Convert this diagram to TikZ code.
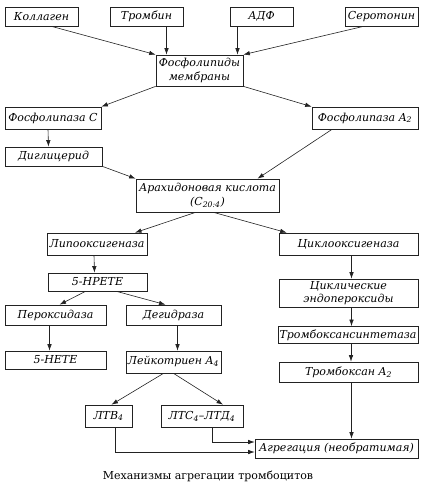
\documentclass[tikz,border=0pt]{standalone}
\usepackage{fontspec}
\setmainfont{DejaVu Serif}
\usetikzlibrary{positioning, arrows.meta, calc}
\definecolor{coloredge}{HTML}{222222}

\begin{document}
\begin{tikzpicture}[
    % one unit = one pixel of the page, y running downwards
    x=1pt, y=-1pt,
    box/.style={
        rectangle,
        draw=coloredge,
        fill=white,
        align=center,
        inner sep=1.5pt,
        minimum height=19pt,
        line width=0.7pt,
        text=black,
        font=\fontsize{11}{13.5}\selectfont\itshape
    },
    arrow/.style={
        -{Latex[length=6.5pt, width=4.5pt]},
        coloredge,
        line width=0.6pt
    }
]
\useasboundingbox (0,0) rectangle (430,488);

% ==============================
% Row 1: Activators
% ==============================
\node[box, minimum width=73pt] (collagen) at (41.5,16.5) {Коллаген};
\node[box, minimum width=73pt] (thrombin) at (146.5,16.5) {Тромбин};
\node[box, minimum width=63pt] (adp) at (261.5,16.5) {АДФ};
\node[box, minimum width=73pt] (serotonin) at (381.5,16.5) {Серотонин};

\node[box, minimum width=87pt, minimum height=31pt] (phlip) at (199.5,70.5) {
    Фосфолипиды \\ мембраны
};

% ==============================
% Row 2: Phospholipases
% ==============================
\node[box, minimum width=96pt, minimum height=22pt] (plc) at (53,118) {Фосфолипаза C};
\node[box, minimum width=106pt, minimum height=22pt] (pla) at (365,118) {Фосфолипаза A\textsubscript{2}};
\node[box, minimum width=97pt] (dag) at (53.5,156.5) {Диглицерид};

\node[box, minimum width=143pt, minimum height=33pt] (arach) at (207.5,195.5) {
    Арахидоновая кислота \\ (C\textsubscript{20:4})
};

% ==============================
% Left branch: lipoxygenase
% ==============================
\node[box, minimum width=100pt, minimum height=22pt] (lox) at (97,244) {Липооксигеназа};
\node[box, minimum width=99pt, minimum height=18pt] (hpete) at (97.5,282) {5-НРЕТЕ};
\node[box, minimum width=101pt, minimum height=20pt] (perox) at (55.5,315) {Пероксидаза};
\node[box, minimum width=95pt, minimum height=20pt] (dehydr) at (173.5,315) {Дегидраза};
\node[box, minimum width=101pt, minimum height=18pt] (hete) at (55.5,360) {5-НЕТЕ};
\node[box, minimum width=95pt, minimum height=22pt] (lta) at (173.5,362) {Лейкотриен A\textsubscript{4}};
\node[box, minimum width=47pt, minimum height=22pt] (ltb) at (108.5,416) {ЛТВ\textsubscript{4}};
\node[box, minimum width=82pt, minimum height=22pt] (ltc) at (202,416) {ЛТС\textsubscript{4}–ЛТД\textsubscript{4}};

% ==============================
% Right branch: cyclooxygenase
% ==============================
\node[box, minimum width=139pt, minimum height=22pt] (cox) at (348.5,244) {Циклооксигеназа};
\node[box, minimum width=139pt, minimum height=28pt] (endo) at (348.5,293) {
    Циклические \\ эндопероксиды
};
\node[box, minimum width=140pt, minimum height=17pt] (txsyn) at (348,335) {Тромбоксансинтетаза};
\node[box, minimum width=139pt, minimum height=20pt] (txa) at (348.5,372) {Тромбоксан A\textsubscript{2}};

\node[box, minimum width=163pt] (aggr) at (336.5,448.5) {Агрегация (необратимая)};

\node[font=\fontsize{11}{13}\selectfont] (caption) at (208,476) {Механизмы агрегации тромбоцитов};

% ==============================
% Arrows
% ==============================
\draw[arrow] ([xshift=10pt]collagen.south) -- (phlip.north west);
\draw[arrow] ([xshift=20pt]thrombin.south) -- ([xshift=20pt]thrombin.south |- phlip.north);
\draw[arrow] ([xshift=-24pt]adp.south) -- ([xshift=-24pt]adp.south |- phlip.north);
\draw[arrow] ([xshift=-18pt]serotonin.south) -- (phlip.north east);

\draw[arrow] (phlip.south west) -- (plc.north east);
\draw[arrow] (phlip.south east) -- (pla.north west);

\draw[arrow] ([xshift=-5pt]plc.south) -- ([xshift=-5pt]dag.north);
\draw[arrow] (dag.south east) -- (arach.north west);
\draw[arrow] ([xshift=-33pt]pla.south) -- ([xshift=50pt]arach.north);

\draw[arrow] ([xshift=-12pt]arach.south) -- ([xshift=38pt]lox.north);
\draw[arrow] ([xshift=6pt]arach.south) -- ([xshift=8pt]cox.north west);

% Lipoxygenase chain
\draw[arrow] ([xshift=-3pt]lox.south) -- ([xshift=-3pt]hpete.north);
\draw[arrow] ([xshift=-12pt]hpete.south) -- ([xshift=4pt]perox.north);
\draw[arrow] ([xshift=19pt]hpete.south) -- ([xshift=-8pt]dehydr.north);
\draw[arrow] ([xshift=-6pt]perox.south) -- ([xshift=-6pt]hete.north);
\draw[arrow] ([xshift=4pt]dehydr.south) -- ([xshift=4pt]lta.north);
\draw[arrow] ([xshift=-10pt]lta.south) -- ([xshift=3pt]ltb.north);
\draw[arrow] (lta.south) -- ([xshift=21pt]ltc.north);

% Cyclooxygenase chain
\draw[arrow] ([xshift=3pt]cox.south) -- ([xshift=3pt]endo.north);
\draw[arrow] ([xshift=3pt]endo.south) -- ([xshift=3pt]endo.south |- txsyn.north);
\draw[arrow] ([xshift=3pt]txsyn.south) -- ([xshift=3pt]txsyn.south |- txa.north);
\draw[arrow] ([xshift=3pt]txa.south) -- ([xshift=3pt]txa.south |- aggr.north);

% Leukotrienes to aggregation
\draw[arrow] ([xshift=10pt]ltc.south) |- ([yshift=6.5pt]aggr.west);
\draw[arrow] ([xshift=6.5pt]ltb.south) |- ([yshift=-3.5pt]aggr.west);

\end{tikzpicture}
\end{document}
